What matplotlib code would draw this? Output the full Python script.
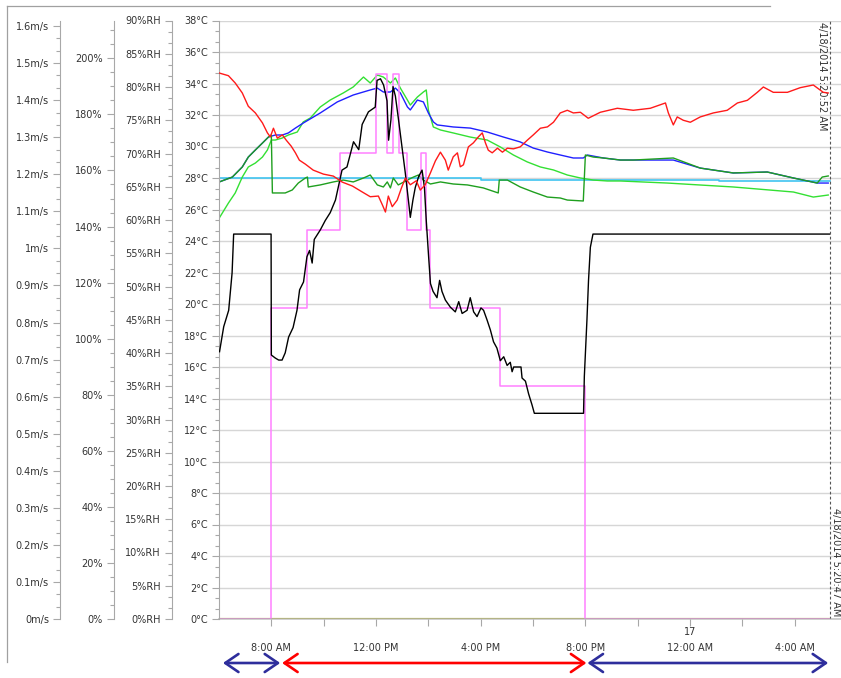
import matplotlib
matplotlib.use("Agg")
import matplotlib.pyplot as plt
import matplotlib.transforms as mtransforms
from matplotlib.patches import FancyArrowPatch
from matplotlib.lines import Line2D
from matplotlib.ticker import FixedLocator, MultipleLocator, AutoMinorLocator, FuncFormatter

plt.rcParams['font.family'] = ['DejaVu Sans']
plt.rcParams['font.size'] = 7

# ---- time is in hours from midnight of the first day ----
# Black trace (°C)
black_t = [6.02, 6.18, 6.37, 6.50, 6.56, 7.99, 8.00, 8.15, 8.28, 8.41, 8.53, 8.66, 8.83, 8.98, 9.08,
           9.23, 9.36, 9.46, 9.56, 9.64, 9.87, 10.06, 10.25, 10.45, 10.70, 10.89, 11.14, 11.34, 11.47,
           11.71, 11.97, 12.04, 12.17, 12.29, 12.42, 12.48, 12.57, 12.65, 12.74, 12.86, 12.99, 13.12,
           13.25, 13.31, 13.41, 13.50, 13.63, 13.76, 13.85, 13.92, 14.01, 14.08, 14.18, 14.33, 14.43,
           14.52, 14.65, 14.84, 15.03, 15.16, 15.29, 15.48, 15.60, 15.73, 15.86, 16.01, 16.11, 16.24,
           16.37, 16.49, 16.62, 16.75, 16.88, 17.01, 17.13, 17.20, 17.26, 17.54, 17.58, 17.71, 17.83,
           17.96, 18.05, 19.93, 19.96, 20.06, 20.12, 20.19, 20.29, 29.33]
black_v = [16.97, 18.56, 19.6, 21.97, 24.44, 24.44, 16.76, 16.57, 16.44, 16.44, 16.9, 17.9, 18.5, 19.6,
           20.9, 21.4, 23.0, 23.4, 22.6, 24.1, 24.7, 25.3, 25.8, 26.6, 28.5, 28.7, 30.3, 29.8, 31.4,
           32.2, 32.5, 34.2, 34.3, 33.9, 32.9, 30.4, 31.7, 33.8, 33.2, 31.7, 30.0, 28.3, 26.4, 25.5,
           26.6, 27.4, 28.1, 28.5, 27.4, 25.3, 23.0, 21.3, 20.8, 20.4, 21.5, 20.8, 20.25, 19.8, 19.5,
           20.15, 19.4, 19.6, 20.4, 19.5, 19.2, 19.75, 19.6, 19.0, 18.35, 17.6, 17.2, 16.4, 16.65,
           16.1, 16.3, 15.7, 16.0, 16.0, 15.3, 15.1, 14.3, 13.6, 13.06, 13.06, 15.4, 19.0, 21.5,
           23.6, 24.44, 24.44]

# Setpoint steps (°C)
pink_t = [6.0, 8.0, 9.38, 10.64, 12.0, 12.43, 12.65, 12.88, 13.20, 13.73, 13.92, 14.08, 16.75, 20.0, 29.33]
pink_v = [0, 19.75, 24.7, 29.6, 34.6, 29.6, 34.6, 29.6, 24.7, 29.6, 24.7, 19.75, 14.8, 0, 0]

# Relative humidity (%RH)
red_t = [6.01, 6.36, 6.62, 6.89, 7.12, 7.39, 7.66, 7.85, 7.96, 8.08, 8.23, 8.42, 8.57, 8.76, 8.92,
         9.07, 9.30, 9.60, 9.99, 10.37, 10.71, 11.10, 11.48, 11.78, 12.09, 12.24, 12.36, 12.47,
         12.62, 12.81, 12.97, 13.12, 13.31, 13.54, 13.69, 13.88, 14.08, 14.27, 14.46, 14.65, 14.76,
         14.95, 15.11, 15.22, 15.34, 15.53, 15.72, 15.91, 16.06, 16.18, 16.29, 16.44, 16.64, 16.83,
         17.02, 17.25, 17.51, 17.78, 18.01, 18.28, 18.55, 18.78, 19.04, 19.31, 19.54, 19.81, 20.11,
         20.57, 21.22, 21.83, 22.48, 23.06, 23.17, 23.36, 23.51, 23.74, 24.01, 24.39, 24.89, 25.42,
         25.81, 26.19, 26.57, 26.80, 27.18, 27.72, 28.21, 28.71, 29.09, 29.28]
red_rh = [82.1, 81.7, 80.6, 79.1, 77.1, 76.1, 74.6, 73.1, 72.5, 73.8, 72.3, 72.8, 72.0, 71.1, 70.1,
          69.0, 68.4, 67.5, 66.9, 66.6, 65.7, 65.1, 64.2, 63.5, 63.6, 62.3, 61.2, 63.6, 62.0, 63.0,
          64.8, 66.3, 65.3, 65.9, 64.5, 65.3, 67.1, 68.9, 70.2, 69.0, 67.5, 69.5, 70.1, 68.0, 68.3,
          71.0, 71.6, 72.5, 73.1, 71.6, 70.5, 70.1, 70.8, 70.2, 70.8, 70.7, 71.0, 72.0, 72.8, 73.8,
          74.0, 74.7, 76.1, 76.5, 76.1, 76.2, 75.3, 76.2, 76.8, 76.5, 76.8, 77.6, 76.1, 74.3, 75.5,
          75.0, 74.7, 75.5, 76.1, 76.5, 77.6, 78.0, 79.2, 80.0, 79.2, 79.2, 79.9, 80.3, 79.2, 79.1]

# Temperatures (°C)
lime_t = [6.01, 6.36, 6.62, 6.89, 7.12, 7.39, 7.66, 7.85, 8.00, 8.15, 8.42, 8.65, 8.99, 9.22, 9.49,
          9.87, 10.25, 10.75, 11.13, 11.52, 11.78, 12.05, 12.28, 12.55, 12.74, 12.93, 13.20, 13.31,
          13.58, 13.81, 13.92, 14.00, 14.19, 14.46, 14.95, 15.60, 16.25, 16.75, 17.25, 17.78, 18.28,
          18.78, 19.31, 19.81, 20.30, 20.84, 21.34, 23.13, 25.65, 27.95, 28.71, 29.28]
lime_v = [25.46, 26.41, 27.05, 28.06, 28.70, 28.95, 29.33, 29.78, 30.41, 30.41, 30.54, 30.73, 30.92,
          31.56, 31.81, 32.51, 32.95, 33.40, 33.78, 34.41, 34.03, 34.54, 34.41, 34.03, 34.35, 33.71,
          32.95, 32.63, 33.14, 33.46, 33.59, 32.32, 31.24, 31.05, 30.86, 30.60, 30.41, 29.97, 29.46,
          29.02, 28.70, 28.51, 28.19, 28.00, 27.87, 27.81, 27.81, 27.68, 27.43, 27.11, 26.79, 26.92]

blue_t = [6.01, 6.51, 6.89, 7.12, 7.39, 7.66, 7.89, 8.15, 8.42, 8.65, 8.92, 9.22, 9.87, 10.52, 11.13,
          11.78, 12.05, 12.28, 12.55, 12.74, 12.93, 13.20, 13.31, 13.58, 13.81, 14.00, 14.19, 14.34,
          14.95, 15.60, 16.25, 16.87, 17.51, 18.01, 18.55, 19.04, 19.54, 19.92, 20.08, 20.69, 21.34,
          21.83, 23.36, 24.39, 25.65, 26.95, 27.95, 28.86, 29.28]
blue_v = [27.75, 28.06, 28.70, 29.33, 29.78, 30.22, 30.60, 30.73, 30.73, 30.86, 31.17, 31.49, 32.13,
          32.83, 33.27, 33.59, 33.71, 33.46, 33.46, 33.71, 33.40, 32.51, 32.32, 32.95, 32.83, 32.13,
          31.56, 31.37, 31.24, 31.17, 30.92, 30.60, 30.29, 29.90, 29.65, 29.46, 29.27, 29.27, 29.46,
          29.27, 29.14, 29.14, 29.14, 28.63, 28.32, 28.38, 28.00, 27.68, 27.68]

green_t = [6.01, 6.51, 6.89, 7.12, 7.39, 7.66, 7.89, 8.00, 8.04, 8.53, 8.80, 9.03, 9.30, 9.38, 9.41,
           9.87, 10.37, 10.75, 11.13, 11.52, 11.78, 12.05, 12.28, 12.43, 12.55, 12.66, 12.85, 13.20,
           13.43, 13.62, 13.81, 14.08, 14.46, 14.95, 15.49, 16.10, 16.67, 16.71, 17.02, 17.51, 18.01,
           18.55, 19.04, 19.31, 19.92, 20.00, 20.30, 20.69, 21.34, 21.83, 23.36, 24.39, 25.65, 26.95,
           27.95, 28.86, 29.05, 29.28]
green_v = [27.75, 28.06, 28.70, 29.33, 29.78, 30.22, 30.60, 30.73, 27.05, 27.05, 27.24, 27.68, 28.00,
           28.06, 27.43, 27.56, 27.75, 27.87, 27.75, 28.00, 28.19, 27.56, 27.43, 27.75, 27.37, 28.00,
           27.56, 27.87, 28.06, 28.19, 27.87, 27.62, 27.75, 27.62, 27.56, 27.37, 27.05, 27.87, 27.87,
           27.43, 27.11, 26.79, 26.73, 26.60, 26.54, 29.46, 29.33, 29.27, 29.14, 29.14, 29.27, 28.63,
           28.32, 28.38, 28.00, 27.68, 28.06, 28.13]

cyan_t = [6.0, 16.0, 25.1, 29.33]
cyan_v = [28.0, 27.9, 27.8, 27.8]

olive_t = [6.0, 29.33]
olive_v = [0.0, 0.0]

# Time axis
tick_hours = [8, 12, 16, 20, 24, 28]
tick_labels = ['8:00 AM', '12:00 PM', '4:00 PM', '8:00 PM', '12:00 AM', '4:00 AM']
minor_hours = [10, 14, 18, 22, 26]
day_mark = (24, '17')
end_time = 29.33
end_labels = ['4/18/2014 5:20:52 AM', '4/18/2014 5:20:47 AM']

# Day / night periods shown under the axis
periods = [(6.15, 8.34), (8.41, 20.04), (20.08, 29.28)]
period_colors = ['#2e2e9c', '#ff0000', '#2e2e9c']

# ---- layout ----
W, H = 841, 678
fig = plt.figure(figsize=(W / 100, H / 100), dpi=100)
left_px, right_px = 219, 841
bottom_px, top_px = 619, 20.5
ax = fig.add_axes([left_px / W, 1 - bottom_px / H, (right_px - left_px) / W, (bottom_px - top_px) / H])
px_per_hour = 26.17
ax.set_xlim(6.0, 6.0 + (right_px - left_px) / px_per_hour)
ax.set_ylim(0, 38)

axis_grey = '#a8a8a8'
text_col = '#333333'

for s in ('top', 'right'):
    ax.spines[s].set_visible(False)
for s in ('left', 'bottom'):
    ax.spines[s].set_color(axis_grey)
    ax.spines[s].set_linewidth(0.8)
ax.spines['bottom'].set_zorder(4)
ax.spines['bottom'].set_alpha(0.55)
ax.spines['bottom'].set_linewidth(1.4)

ax.yaxis.set_major_locator(MultipleLocator(2))
ax.yaxis.set_minor_locator(AutoMinorLocator(3))
ax.yaxis.set_major_formatter(FuncFormatter(lambda v, p: f'{v:g}°C'))
ax.yaxis.grid(True, which='major', color='#d6d6d6', lw=1.0, zorder=0)
ax.set_axisbelow(True)

ax.xaxis.set_major_locator(FixedLocator(tick_hours))
ax.xaxis.set_minor_locator(FixedLocator(minor_hours))
ax.set_xticklabels(tick_labels)
ax.tick_params(axis='x', which='both', length=5, width=0.8, color=axis_grey, pad=12,
               labelcolor=text_col, labelsize=7)
ax.tick_params(axis='y', which='major', length=5, width=0.8, color=axis_grey, pad=3,
               labelcolor=text_col, labelsize=7)
ax.tick_params(axis='y', which='minor', length=3, width=0.8, color=axis_grey)


def side_axis(spine_px, lo, hi, step, minor_div, fmt):
    a = ax.twinx()
    a.set_ylim(lo, hi)
    for s in ('top', 'bottom', 'right'):
        a.spines[s].set_visible(False)
    a.spines['left'].set_visible(True)
    a.spines['left'].set_color(axis_grey)
    a.spines['left'].set_linewidth(0.8)
    a.spines['left'].set_position(('axes', (spine_px - left_px) / (right_px - left_px)))
    a.yaxis.set_ticks_position('left')
    a.yaxis.set_label_position('left')
    a.yaxis.set_major_locator(MultipleLocator(step))
    a.yaxis.set_minor_locator(AutoMinorLocator(minor_div))
    a.yaxis.set_major_formatter(FuncFormatter(fmt))
    a.tick_params(axis='y', which='major', length=5, width=0.8, color=axis_grey, pad=3,
                  labelcolor=text_col, labelsize=7)
    a.tick_params(axis='y', which='minor', length=3, width=0.8, color=axis_grey)
    return a


ax_rh = side_axis(172, 0, 90, 5, 3, lambda v, p: f'{v:g}%RH')
ax_pct = side_axis(114, 0, 213.5, 20, 4, lambda v, p: f'{v:g}%')
ax_ms = side_axis(60, 0, 1.615, 0.1, 3, lambda v, p: f'{round(v, 1):g}m/s')

# ---- series ----
ax.plot(olive_t, olive_v, color='#c0c060', lw=1.6, zorder=2)
ax.plot(cyan_t, cyan_v, color='#40c4f0', lw=1.2, drawstyle='steps-post', zorder=2.1)
ax.plot(lime_t, lime_v, color='#33e033', lw=1.0, zorder=2.2)
ax.plot(blue_t, blue_v, color='#2020ff', lw=1.0, zorder=2.3)
ax.plot(green_t, green_v, color='#1f9f1f', lw=1.0, zorder=2.4)
ax.plot(pink_t, pink_v, color='#ff80ff', lw=1.1, drawstyle='steps-post', zorder=2.5)
ax.plot(black_t, black_v, color='#000000', lw=1.0, zorder=2.6)
ax_rh.plot(red_t, red_rh, color='#ff1a1a', lw=1.0)

# end-of-record marker
ax.axvline(end_time, color='#555555', lw=0.8, ls=(0, (2.5, 2)), zorder=3)
ax.annotate(end_labels[0], xy=(end_time, 1.0), xycoords=('data', 'axes fraction'),
            xytext=(-1.5, -1), textcoords='offset points', rotation=-90,
            ha='right', va='top', fontsize=7, color=text_col)
ax.annotate(end_labels[1], xy=(end_time, 0.0), xycoords=('data', 'axes fraction'),
            xytext=(1.0, 2), textcoords='offset points', rotation=-90,
            ha='left', va='bottom', fontsize=7, color=text_col)

blend = mtransforms.blended_transform_factory(ax.transData, ax.transAxes)
ax.text(day_mark[0], -(632 - bottom_px) / (bottom_px - top_px), day_mark[1], transform=blend,
        ha='center', va='center', fontsize=7, color=text_col)

arrow_y = -(663 - bottom_px) / (bottom_px - top_px)
for (a, b), col in zip(periods, period_colors):
    arr = FancyArrowPatch((a, arrow_y), (b, arrow_y), transform=blend,
                          arrowstyle='<->,head_length=0.95,head_width=0.65', mutation_scale=10,
                          color=col, lw=1.9, shrinkA=0, shrinkB=0, clip_on=False)
    ax.add_patch(arr)

# panel border
fig.add_artist(Line2D([7 / W, 7 / W], [1 - 6 / H, 1 - 662 / H], color='#a0a0a0', lw=0.9,
                      transform=fig.transFigure))
fig.add_artist(Line2D([7 / W, 770 / W], [1 - 6 / H, 1 - 6 / H], color='#a0a0a0', lw=0.9,
                      transform=fig.transFigure))

fig.savefig('out.png', dpi=100)
